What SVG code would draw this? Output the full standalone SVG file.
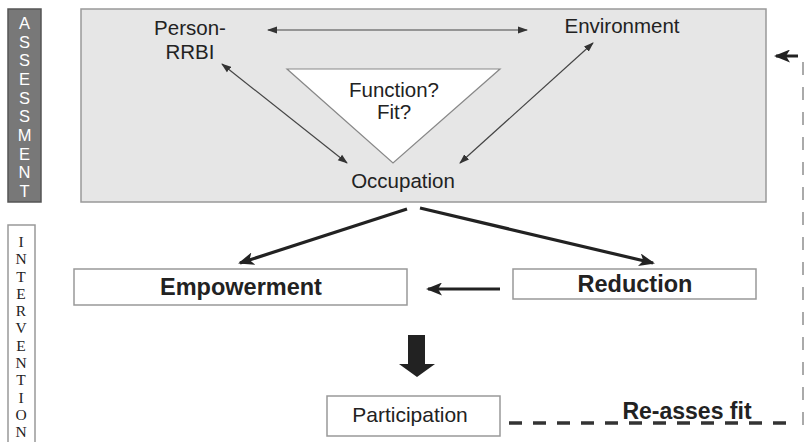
<svg xmlns="http://www.w3.org/2000/svg" width="804" height="442" viewBox="0 0 804 442">
<defs>
<style>
text{font-family:"Liberation Sans",Arial,sans-serif;fill:#222}
.lbl{font-size:20.5px;text-anchor:middle}
.bold{font-size:23.5px;font-weight:bold;text-anchor:middle}
.side{font-size:16.5px;fill:#fff;text-anchor:middle}
.side2{font-family:"Liberation Serif","Times New Roman",serif;font-size:15.5px;fill:#222;text-anchor:middle}
.thin{stroke:#444;stroke-width:1.2;fill:none}
.thick{stroke:#222;stroke-width:3.2;fill:none}
.box{fill:#fff;stroke:#999;stroke-width:1.5}
</style>
<marker id="ah" markerUnits="userSpaceOnUse" markerWidth="10" markerHeight="8" refX="9" refY="4" orient="auto-start-reverse">
<path d="M0,0.5 L10,4 L0,7.5 z" fill="#333"/>
</marker>
<marker id="ahb" markerUnits="userSpaceOnUse" markerWidth="16" markerHeight="13" refX="14" refY="6.5" orient="auto">
<path d="M0,0 L16,6.5 L0,13 L4,6.5 z" fill="#222"/>
</marker>
</defs>

<g id="assessment">
<rect x="8" y="9" width="33" height="193" fill="#787878" stroke="#555" stroke-width="1.5"/>
<text class="side" x="24.5" y="29">A</text>
<text class="side" x="24.5" y="47.7">S</text>
<text class="side" x="24.5" y="66.4">S</text>
<text class="side" x="24.5" y="85">E</text>
<text class="side" x="24.5" y="103.7">S</text>
<text class="side" x="24.5" y="122.4">S</text>
<text class="side" x="24.5" y="141">M</text>
<text class="side" x="24.5" y="159.7">E</text>
<text class="side" x="24.5" y="178.4">N</text>
<text class="side" x="24.5" y="197">T</text>
</g>

<g id="intervention">
<rect x="8" y="225" width="27" height="220" fill="#fff" stroke="#999" stroke-width="1.5"/>
<text class="side2" x="21" y="247">I</text>
<text class="side2" x="21" y="264.3">N</text>
<text class="side2" x="21" y="281.5">T</text>
<text class="side2" x="21" y="298.8">E</text>
<text class="side2" x="21" y="316.1">R</text>
<text class="side2" x="21" y="333.4">V</text>
<text class="side2" x="21" y="350.6">E</text>
<text class="side2" x="21" y="367.9">N</text>
<text class="side2" x="21" y="385.2">T</text>
<text class="side2" x="21" y="402.5">I</text>
<text class="side2" x="21" y="419.7">O</text>
<text class="side2" x="21" y="437">N</text>
</g>

<g id="assessment-panel">
<rect x="81" y="9" width="685" height="193" fill="#e6e6e6" stroke="#999" stroke-width="1.5"/>
</g>

<g id="person">
<text class="lbl" x="190" y="35">Person-</text>
<text class="lbl" x="190" y="59">RRBI</text>
</g>

<g id="environment">
<text class="lbl" x="622" y="33">Environment</text>
</g>

<g id="function-fit">
<polygon points="287,69 500,69 393,163" fill="#fff" stroke="#888" stroke-width="1.2"/>
<text class="lbl" x="394" y="97">Function?</text>
<text class="lbl" x="394" y="119">Fit?</text>
</g>

<g id="occupation">
<text class="lbl" x="403" y="188">Occupation</text>
</g>

<g id="empowerment">
<rect class="box" x="74" y="269" width="333" height="36"/>
<text class="bold" x="241" y="295">Empowerment</text>
</g>

<g id="reduction">
<rect class="box" x="513" y="269" width="243" height="30"/>
<text class="bold" x="635" y="292">Reduction</text>
</g>

<g id="participation">
<rect class="box" x="327" y="396" width="173" height="40"/>
<text class="lbl" x="410" y="422" style="font-size:21px">Participation</text>
</g>

<g id="reassess">
<text class="bold" x="687" y="419" style="font-size:23px">Re-asses fit</text>
</g>

<g id="connectors">
<line class="thin" x1="268" y1="30" x2="527" y2="30" marker-start="url(#ah)" marker-end="url(#ah)"/>
<line class="thin" x1="222" y1="64" x2="347" y2="163" marker-start="url(#ah)" marker-end="url(#ah)"/>
<line class="thin" x1="593" y1="43" x2="460" y2="163" marker-start="url(#ah)" marker-end="url(#ah)"/>
<line class="thick" x1="407" y1="209" x2="240" y2="263" marker-end="url(#ahb)"/>
<line class="thick" x1="420" y1="208" x2="653" y2="263" marker-end="url(#ahb)"/>
<line class="thick" x1="500" y1="289" x2="428" y2="289" marker-end="url(#ahb)"/>
<polygon points="408,335 425,335 425,364 435,364 417,377 399,364 408,364" fill="#222"/>
<line x1="509" y1="423" x2="796" y2="423" stroke="#333" stroke-width="3.5" stroke-dasharray="13 11"/>
<line x1="803" y1="62" x2="803" y2="436" stroke="#aaa" stroke-width="2" stroke-dasharray="13 12"/>
<line class="thick" x1="798" y1="56" x2="776" y2="56" marker-end="url(#ahb)" style="stroke-width:3"/>
</g>
</svg>
